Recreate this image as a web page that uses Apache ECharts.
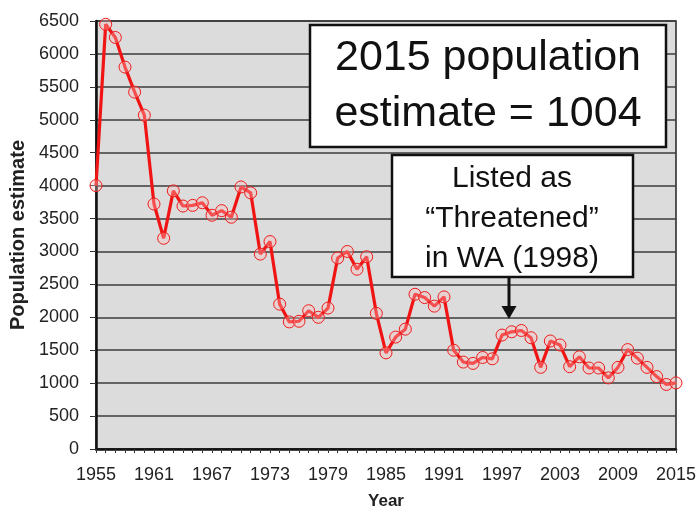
<!DOCTYPE html>
<html>
<head>
<meta charset="UTF-8">
<style>
html, body { margin: 0; padding: 0; background: #fff; }
#chart_div { width: 699px; height: 510px; }
</style>
</head>
<body>
<div id="chart_div"></div>
<script type="text/javascript" src="https://cdn.jsdelivr.net/npm/echarts@6/dist/echarts.min.js"></script>
<script type="text/javascript">
// years 1955 - 2015
var years = [];
for (var y = 1955; y <= 2015; y++) years.push(String(y));

// population estimate
var population = [
	4000, 6450, 6250, 5800, 5420, 5070, 3720, 3200, 3920, 3690,
	3700, 3740, 3550, 3620, 3520, 3980, 3890, 2960, 3150, 2200,
	1930, 1940, 2100, 2000, 2140, 2900, 3000, 2730, 2920, 2060,
	1460, 1700, 1820, 2350, 2300, 2170, 2310, 1500, 1320, 1300,
	1390, 1370, 1730, 1780, 1800, 1690, 1240, 1640, 1580, 1250,
	1400, 1230, 1230, 1080, 1240, 1510, 1380, 1240, 1100, 980,
	1004
];

var boxText1 = ["2015 population", "estimate = 1004"];
var boxText2 = ["Listed as", "\u201CThreatened\u201D", "in WA (1998)"];

var font = "Liberation Sans, Arial, sans-serif";
var myChart = echarts.init(document.getElementById('chart_div'));

var option = {
	animation: false,
	backgroundColor: '#fff',
	grid: {
		left: 96, right: 23, top: 21, bottom: 61,
		outerBoundsMode: 'none',
		show: true,
		backgroundColor: '#dcdcdc',
		borderColor: '#222',
		borderWidth: 1.5
	},
	xAxis: {
		type: 'category',
		data: years,
		boundaryGap: false,
		name: 'Year',
		nameLocation: 'middle',
		nameGap: 44,
		nameTextStyle: { fontFamily: font, fontSize: 17, fontWeight: 'bold', color: '#222' },
		axisLine: { lineStyle: { color: '#111', width: 2.5 } },
		axisTick: { show: true, interval: 0, length: 4, lineStyle: { color: '#333', width: 1 } },
		axisLabel: { interval: 5, fontFamily: font, fontSize: 18, color: '#222', margin: 17 },
		splitLine: { show: false }
	},
	yAxis: {
		type: 'value',
		min: 0, max: 6500, interval: 500,
		name: 'Population estimate',
		nameLocation: 'middle',
		nameGap: 62,
		nameRotate: 90,
		nameTextStyle: { fontFamily: font, fontSize: 20, fontWeight: 'bold', color: '#222' },
		axisLine: { show: true, lineStyle: { color: '#111', width: 2.5 } },
		axisTick: { show: true, length: 6, lineStyle: { color: '#333', width: 1 } },
		axisLabel: {
			fontFamily: font, fontSize: 18, color: '#222', margin: 17,
			formatter: function (v) { return String(v); }
		},
		splitLine: { show: true, lineStyle: { color: '#3c3c3c', width: 1.5 } }
	},
	series: [{
		type: 'line',
		data: population,
		showAllSymbol: true,
		symbol: 'circle',
		symbolSize: 12,
		itemStyle: { color: 'rgba(255,190,190,0.35)', borderColor: '#ee1c1c', borderWidth: 1 },
		lineStyle: { color: '#f01414', width: 3.2 },
		z: 3
	}],
	graphic: [
		{
			type: 'rect', z: 10,
			shape: { x: 310, y: 25, width: 356, height: 122 },
			style: { fill: '#fff', stroke: '#111', lineWidth: 2.5 }
		},
		{
			type: 'text', z: 11, x: 488, y: 58,
			style: { text: boxText1[0], font: '43px ' + font, fill: '#111', align: 'center', verticalAlign: 'middle' }
		},
		{
			type: 'text', z: 11, x: 488, y: 114,
			style: { text: boxText1[1], font: '43px ' + font, fill: '#111', align: 'center', verticalAlign: 'middle' }
		},
		{
			type: 'rect', z: 10,
			shape: { x: 392, y: 155, width: 241, height: 122 },
			style: { fill: '#fff', stroke: '#111', lineWidth: 2.5 }
		},
		{
			type: 'text', z: 11, x: 512, y: 179,
			style: { text: boxText2[0], font: '30px ' + font, fill: '#111', align: 'center', verticalAlign: 'middle' }
		},
		{
			type: 'text', z: 11, x: 512, y: 219,
			style: { text: boxText2[1], font: '30px ' + font, fill: '#111', align: 'center', verticalAlign: 'middle' }
		},
		{
			type: 'text', z: 11, x: 512, y: 259,
			style: { text: boxText2[2], font: '30px ' + font, fill: '#111', align: 'center', verticalAlign: 'middle' }
		},
		// arrow down to 1998
		{
			type: 'line', z: 11,
			shape: { x1: 509, y1: 277, x2: 509, y2: 310 },
			style: { stroke: '#111', lineWidth: 3 }
		},
		{
			type: 'polygon', z: 11,
			shape: { points: [[501.5, 306], [516.5, 306], [509, 319]] },
			style: { fill: '#111' }
		}
	]
};

myChart.setOption(option, true);
</script>
</body>
</html>
